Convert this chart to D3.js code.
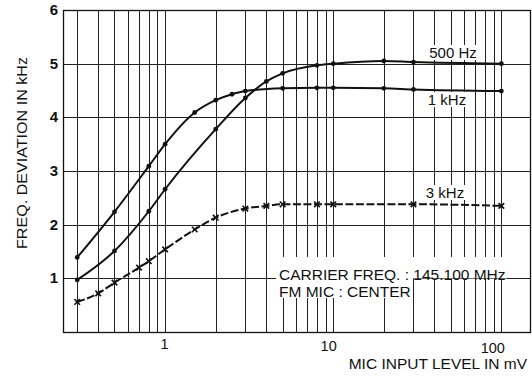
<!DOCTYPE html>
<html>
<head>
<meta charset="utf-8">
<script src="https://cdn.jsdelivr.net/npm/d3@7"></script>
<style>
  html, body { margin: 0; padding: 0; background: #fff; }
  svg { display: block; font-family: "Liberation Sans", Arial, Helvetica, sans-serif; }
</style>
</head>
<body>
<svg id="chart" width="532" height="377"></svg>
<script>
// Mic input level (mV) against FM deviation (kHz) for three audio tones
const khz1X = [0.3, 0.5, 0.8, 1, 1.5, 2, 2.5, 3, 5, 8, 10, 20, 30, 100];
const khz1Y = [1.39, 2.24, 3.09, 3.50, 4.09, 4.32, 4.43, 4.49, 4.54, 4.55, 4.55, 4.54, 4.52, 4.49];

const hz500X = [0.3, 0.5, 0.8, 1, 2, 3, 4, 5, 8, 10, 20, 30, 100];
const hz500Y = [0.97, 1.51, 2.25, 2.66, 3.78, 4.36, 4.67, 4.82, 4.97, 5.00, 5.05, 5.03, 5.00];

const khz3X = [0.3, 0.4, 0.5, 0.7, 0.8, 1, 1.5, 2, 3, 4, 5, 8, 10, 30, 100];
const khz3Y = [0.56, 0.72, 0.92, 1.20, 1.32, 1.54, 1.91, 2.13, 2.30, 2.35, 2.38, 2.38, 2.38, 2.38, 2.35];

const xGridValues = [0.3, 0.4, 0.5, 0.6, 0.7, 0.8, 0.9, 1, 2, 3, 4, 5, 6, 7, 8, 9,
                     10, 20, 30, 40, 50, 60, 70, 80, 90, 100];
const xTickValues = [1, 10, 100];
const yTickValues = [1, 2, 3, 4, 5, 6];

const seriesLabels = ["500 Hz", "1 kHz", "3 kHz"];
const noteLines = ["CARRIER FREQ. : ", "145.100 MHz", "FM MIC : CENTER"];
const yTitle = "FREQ. DEVIATION IN kHz";
const xTitle = "MIC INPUT LEVEL IN mV";

const svg = d3.select("#chart");
const plotL = 63, plotR = 530, plotT = 10, plotB = 332;

const x = d3.scaleLog().domain([0.247, 148]).range([plotL, plotR]);
const y = d3.scaleLinear().domain([0, 6]).range([plotB, plotT]);

const ink = "#111";

// grid
const grid = svg.append("g").attr("stroke", "#222").attr("stroke-width", 1).attr("shape-rendering", "crispEdges");
grid.selectAll("line.v").data(xGridValues).join("line")
  .attr("class", "v")
  .attr("x1", d => Math.round(x(d)) + 0.5).attr("x2", d => Math.round(x(d)) + 0.5)
  .attr("y1", plotT).attr("y2", plotB);
grid.selectAll("line.h").data(yTickValues).join("line")
  .attr("class", "h")
  .attr("x1", plotL).attr("x2", plotR)
  .attr("y1", d => Math.round(y(d)) + 0.5).attr("y2", d => Math.round(y(d)) + 0.5);

// frame
svg.append("rect")
  .attr("x", plotL + 0.5).attr("y", plotT + 0.5)
  .attr("width", plotR - plotL).attr("height", plotB - plotT)
  .attr("fill", "none").attr("stroke", ink).attr("stroke-width", 1.3);

// note block with a paper-white backing that hides the grid behind the text
const note = svg.append("g").attr("font-size", 15.5).attr("fill", ink);
note.append("rect").attr("x", 276).attr("y", 257).attr("width", 231).attr("height", y(1) - 257).attr("fill", "#fff");
note.append("rect").attr("x", 276).attr("y", y(1) - 1).attr("width", 137).attr("height", 299 - y(1)).attr("fill", "#fff");
const t1 = note.append("text").attr("x", 279).attr("y", 280);
t1.append("tspan").text(noteLines[0]);
t1.append("tspan").text(noteLines[1]);
note.append("text").attr("x", 279).attr("y", 296.5).text(noteLines[2]);

// curves
const line = d3.line().x(d => x(d[0])).y(d => y(d[1])).curve(d3.curveMonotoneX);
const zip = (xs, ys) => xs.map((v, i) => [v, ys[i]]);

const s500 = zip(hz500X, hz500Y);
const s1k = zip(khz1X, khz1Y);
const s3k = zip(khz3X, khz3Y);

svg.append("path").datum(s500).attr("d", line)
  .attr("fill", "none").attr("stroke", ink).attr("stroke-width", 2);
svg.append("path").datum(s1k).attr("d", line)
  .attr("fill", "none").attr("stroke", ink).attr("stroke-width", 2);
svg.append("path").datum(s3k).attr("d", line)
  .attr("fill", "none").attr("stroke", ink).attr("stroke-width", 2)
  .attr("stroke-dasharray", "8,2.5");

// markers
[s500, s1k].forEach(s => {
  svg.append("g").selectAll("circle").data(s).join("circle")
    .attr("cx", d => x(d[0])).attr("cy", d => y(d[1])).attr("r", 2.4).attr("fill", ink);
});
const cross = d3.symbol().type(d3.symbolTimes).size(22);
svg.append("g").selectAll("path").data(s3k).join("path")
  .attr("transform", d => `translate(${x(d[0])},${y(d[1])})`)
  .attr("d", cross).attr("fill", "none").attr("stroke", ink).attr("stroke-width", 1.6);

// series labels with white backing
const labelPos = [[453, 58], [447, 105], [445, 198]];
seriesLabels.forEach((txt, i) => {
  const g = svg.append("g");
  const t = g.append("text").attr("x", labelPos[i][0]).attr("y", labelPos[i][1])
    .attr("text-anchor", "middle").attr("font-size", 15).attr("fill", ink).text(txt);
  const b = t.node().getBBox();
  g.insert("rect", "text").attr("x", b.x - 1).attr("y", b.y + 1).attr("width", b.width + 2).attr("height", b.height - 2).attr("fill", "#fff");
});

// axes labels
const xAxis = d3.axisBottom(x).tickValues(xTickValues).tickSize(0).tickFormat(d3.format("d"));
const gx = svg.append("g").attr("transform", `translate(0,${plotB})`).call(xAxis);
gx.select(".domain").remove();
gx.selectAll("text").attr("font-size", 14.5).attr("fill", ink).attr("font-family", null)
  .attr("text-anchor", "end").attr("dx", 3).attr("y", 7).attr("dy", "0.71em")
  .attr("transform", (d, i) => `translate(0,${i * 2})`);

const yAxis = d3.axisLeft(y).tickValues(yTickValues).tickSize(0).tickFormat(d3.format("d"));
const gy = svg.append("g").attr("transform", `translate(${plotL},0)`).call(yAxis);
gy.select(".domain").remove();
gy.selectAll("text").attr("font-size", 15).attr("font-weight", "bold").attr("fill", ink)
  .attr("font-family", null).attr("x", -5).attr("dy", "0.3em");

svg.append("text")
  .attr("transform", `translate(27,153) rotate(-90)`)
  .attr("text-anchor", "middle").attr("font-size", 15).attr("fill", ink)
  .attr("textLength", 192).attr("lengthAdjust", "spacingAndGlyphs")
  .text(yTitle);

svg.append("text")
  .attr("x", 527).attr("y", 369).attr("text-anchor", "end")
  .attr("font-size", 15.5).attr("fill", ink)
  .text(xTitle);
</script>
</body>
</html>
